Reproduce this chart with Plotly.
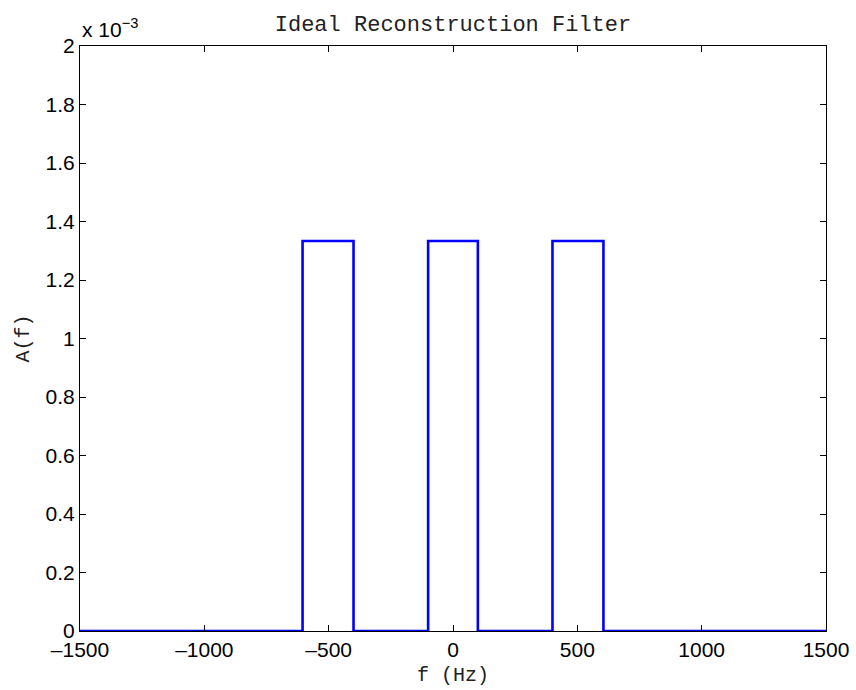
import plotly.graph_objects as go

# Passband edges (Hz) and gain of the ideal reconstruction filter
band_lo = [-605, -100, 400]
band_hi = [-400, 100, 605]
gain = 1.0 / 750
f_min, f_max = -1500, 1500

x_ticks = [-1500, -1000, -500, 0, 500, 1000, 1500]
x_tick_text = ["\u20131500", "\u20131000", "\u2013500", "0", "500", "1000", "1500"]
y_ticks = [0, 0.2, 0.4, 0.6, 0.8, 1.0, 1.2, 1.4, 1.6, 1.8, 2.0]
y_tick_text = ["0", "0.2", "0.4", "0.6", "0.8", "1", "1.2", "1.4", "1.6", "1.8", "2"]

# Build the rectangular response as a step trace
fx, fy = [f_min], [0]
for lo, hi in zip(band_lo, band_hi):
    fx += [lo, lo, hi, hi]
    fy += [0, gain, gain, 0]
fx.append(f_max)
fy.append(0)

fig = go.Figure(go.Scatter(x=fx, y=fy, mode="lines",
                           line=dict(color="#0000ff", width=2.6),
                           hoverinfo="skip"))

tick_font = dict(family="Liberation Sans, Arial", size=21, color="black")
mono = "Liberation Mono, Courier New, monospace"

axis_common = dict(showgrid=False, zeroline=False, showline=True, mirror="ticks",
                   linecolor="black", linewidth=1, ticks="inside", ticklen=6,
                   tickcolor="black", tickfont=tick_font, automargin=False)

fig.update_layout(
    width=856, height=690,
    paper_bgcolor="white", plot_bgcolor="white",
    margin=dict(l=80, r=30, t=46, b=59),
    showlegend=False,
    title=dict(text="Ideal Reconstruction Filter", x=0.5, xanchor="center",
               xref="paper", y=1 - 23 / 690, yanchor="middle", automargin=False,
               font=dict(family=mono, size=22, color="#222")),
    xaxis=dict(range=[f_min, f_max], tickvals=x_ticks, ticktext=x_tick_text,
               **axis_common),
    yaxis=dict(range=[0, 2e-3], tickvals=[v * 1e-3 for v in y_ticks],
               ticktext=y_tick_text, **axis_common),
    annotations=[
        dict(text="x 10<sup>\u22123</sup>", xref="paper", yref="paper",
             x=0, y=1, xanchor="left", yanchor="bottom", yshift=3,
             showarrow=False, font=dict(family="Liberation Sans, Arial", size=21,
                                        color="black")),
        dict(text="f (Hz)", xref="paper", yref="paper", x=0.5, y=0,
             xanchor="center", yanchor="middle", yshift=-44, showarrow=False,
             font=dict(family=mono, size=20, color="#222")),
        dict(text="A(f)", xref="paper", yref="paper", x=0, y=0.5,
             xanchor="center", yanchor="middle", xshift=-57, textangle=-90,
             showarrow=False, font=dict(family=mono, size=20, color="#222")),
    ],
)

fig.write_html("out.html")
